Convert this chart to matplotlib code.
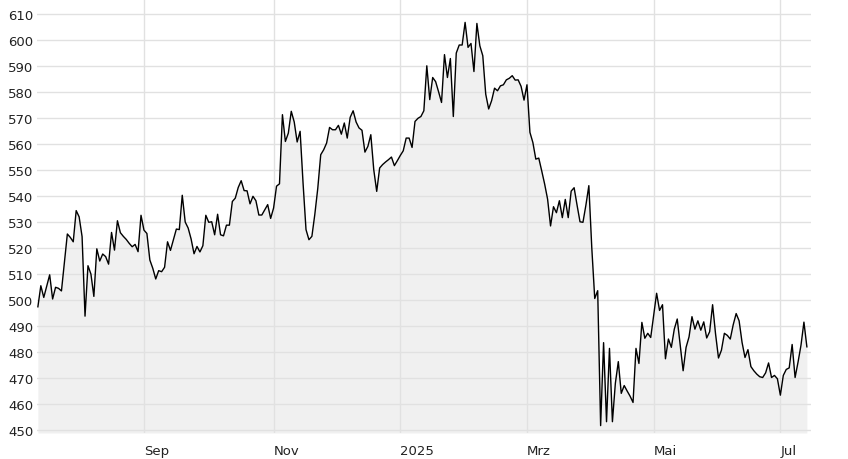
import matplotlib
matplotlib.use("Agg")
import matplotlib.pyplot as plt
import numpy as np
import pandas as pd

# Daily closing prices, one per weekday starting at start_date
start_date = "2024-07-12"
prices = [
    497.4, 505.5, 501.0, 505.3, 509.7, 500.4, 504.9, 504.5, 503.5, 514.5,
    525.4, 524.1, 522.4, 534.4, 532.0, 524.4, 493.8, 513.2, 510.0, 501.4,
    519.7, 515.0, 517.7, 516.7, 513.8, 526.0, 519.2, 530.5, 525.9, 524.5,
    523.3, 521.8, 520.5, 521.4, 518.6, 532.6, 526.9, 525.6, 515.4, 512.2,
    508.1, 511.3, 510.9, 512.6, 522.4, 519.1, 523.2, 527.3, 527.1, 540.3,
    530.0, 527.7, 523.5, 517.8, 520.6, 518.5, 520.9, 532.6, 529.9, 530.1,
    525.1, 533.0, 525.1, 524.7, 528.8, 528.8, 537.9, 539.2, 543.3, 545.9,
    542.1, 542.0, 537.0, 539.9, 538.2, 532.7, 532.7, 534.7, 536.7, 531.4,
    535.4, 543.8, 544.7, 571.3, 561.0, 564.2, 572.6, 568.5, 560.8, 564.9,
    545.0, 527.1, 523.2, 524.5, 533.0, 543.0, 555.9, 557.8, 560.4, 566.4,
    565.5, 565.5, 567.2, 563.8, 568.1, 562.3, 570.3, 572.8, 568.5, 566.2,
    565.3, 556.9, 559.1, 563.6, 550.1, 541.8, 550.8, 552.1, 553.1, 554.0,
    555.0, 551.7, 553.6, 555.6, 557.4, 562.3, 562.3, 558.7, 568.7, 569.9,
    570.6, 572.8, 590.1, 577.1, 585.6, 584.0, 580.1, 576.0, 594.4, 585.6,
    592.9, 570.6, 595.0, 598.1, 598.1, 606.8, 597.2, 598.7, 587.9, 606.4,
    597.8, 594.0, 579.2, 573.5, 576.7, 581.5, 580.5, 582.4, 582.8, 584.7,
    585.3, 586.3, 584.6, 584.7, 582.2, 576.9, 582.8, 564.5, 560.6, 554.2,
    554.6, 549.7, 544.6, 538.8, 528.5, 535.9, 533.6, 538.2, 531.7, 538.7,
    531.7, 541.9, 543.2, 536.5, 530.1, 529.9, 536.5, 544.0, 520.0, 500.6,
    503.6, 451.7, 483.6, 453.2, 481.4, 453.2, 468.0, 476.3, 464.1, 467.1,
    465.0, 463.0, 460.6, 481.4, 475.6, 491.4, 485.3, 487.2, 485.6, 494.0,
    502.6, 496.0, 498.2, 477.4, 485.0, 481.8, 488.8, 492.7, 482.6, 472.8,
    481.8, 485.8, 493.6, 488.8, 492.0, 488.4, 491.6, 485.4, 487.8, 498.2,
    487.0, 477.7, 480.7, 487.2, 486.4, 485.0, 490.5, 494.8, 492.0, 483.7,
    477.9, 480.9, 474.4, 472.8, 471.5, 470.5, 470.2, 472.0, 475.8, 470.2,
    471.0, 469.7, 463.4, 471.0, 473.3, 473.9, 482.9, 470.2, 476.1, 482.6,
    491.5, 482.0,
]

# labelled months (German abbreviations, January shows the year)
month_labels = {9: "Sep", 11: "Nov", 1: "2025", 3: "Mrz", 5: "Mai", 7: "Jul"}
y_ticks = list(range(450, 611, 10))

dates = pd.bdate_range(start_date, periods=len(prices))
x = np.arange(len(prices))

# first weekday of each labelled month
tick_pos = []
tick_text = []
for i in range(1, len(dates)):
    m = dates[i].month
    if m != dates[i - 1].month and m in month_labels:
        tick_pos.append(i)
        tick_text.append(month_labels[m])

fig = plt.figure(figsize=(8.48, 4.6), dpi=100)
ax = fig.add_axes([37 / 848, 26 / 460, 774 / 848, 434 / 460])

ymin, ymax = 448.85, 615.8
ax.fill_between(x, prices, ymin, color="#f0f0f0", lw=0, zorder=0.2)
ax.plot(x, prices, color="black", lw=1.0, zorder=2)

ax.set_xlim(-0.3, 262.4)
ax.set_ylim(ymin, ymax)
ax.set_yticks(y_ticks)
ax.set_xticks(tick_pos, tick_text)
for lab in ax.get_xticklabels():
    lab.set_horizontalalignment("left")

ax.tick_params(axis="both", length=0, labelsize=9.5, colors="#222222")
ax.tick_params(axis="y", pad=2.7)
ax.tick_params(axis="x", pad=8)
ax.grid(color="#e1e1e1", lw=1.0)
ax.set_axisbelow(True)
for s in ax.spines.values():
    s.set_visible(False)

fig.savefig("out.png", dpi=100)
